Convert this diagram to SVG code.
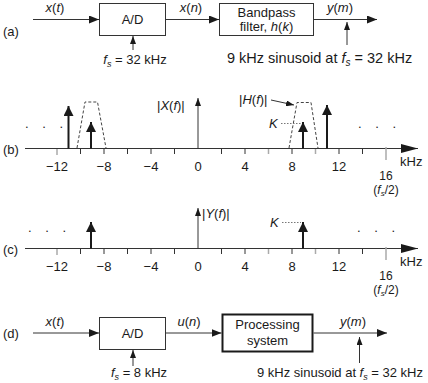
<svg xmlns="http://www.w3.org/2000/svg" width="428" height="383" viewBox="0 0 428 383">
<defs>
<marker id="ah" viewBox="0 0 10 8" refX="10" refY="4" markerWidth="10" markerHeight="8" markerUnits="userSpaceOnUse" orient="auto"><path d="M0,0 L10,4 L0,8 Z" fill="#1a1a1a"/></marker>
<marker id="ahs" viewBox="0 0 8 6" refX="8" refY="3" markerWidth="8" markerHeight="6" markerUnits="userSpaceOnUse" orient="auto"><path d="M0,0 L8,3 L0,6 Z" fill="#1a1a1a"/></marker>
<marker id="ahx" viewBox="0 0 17 9" refX="17" refY="4.5" markerWidth="17" markerHeight="9" markerUnits="userSpaceOnUse" orient="auto"><path d="M0,0 L17,4.5 L0,9 Z" fill="#1a1a1a"/></marker>
<marker id="ahb" viewBox="0 0 10 10" refX="10" refY="5" markerWidth="10" markerHeight="10" markerUnits="userSpaceOnUse" orient="auto"><path d="M0,0 L10,5 L0,10 Z" fill="#1a1a1a"/></marker>
</defs>
<style>
text{font-family:"Liberation Sans",Arial,sans-serif;font-size:13px;fill:#1a1a1a}
.m{text-anchor:middle}
.i{font-style:italic}
.sub{font-size:9px;font-style:italic}
.big{font-size:14.5px}
.big .sub{font-size:10px}
.fh{font-size:12px}
.fh .sub{font-size:8px}
.dots{letter-spacing:5px}
.box{fill:#fff;stroke:#333;stroke-width:1}
.tbox{fill:#fff;stroke:#1a1a1a;stroke-width:2}
.ln{stroke:#333;stroke-width:1;fill:none}
.sp{stroke:#1a1a1a;stroke-width:2;fill:none}
.tk{stroke:#333;stroke-width:1}
.tg{stroke:#aaa;stroke-width:1.5}
.dash{stroke:#444;stroke-width:1;fill:none;stroke-dasharray:3,2}
.dot{stroke:#777;stroke-width:1;fill:none;stroke-dasharray:1.5,1.5}
</style>

<!-- panel labels -->
<text x="3" y="36">(a)</text>
<text x="3" y="154">(b)</text>
<text x="3" y="254">(c)</text>
<text x="3" y="338">(d)</text>

<!-- (a) -->
<g id="ad_a"><rect class="box" x="99.5" y="3.5" width="66" height="32"/><text class="m" x="132.5" y="24">A/D</text></g>
<g id="bpf"><rect class="box" x="219.5" y="3.5" width="94" height="32"/><text class="m" x="266.5" y="17">Bandpass</text><text class="m" x="266.5" y="31">filter, <tspan class="i">h</tspan>(<tspan class="i">k</tspan>)</text></g>
<g id="conn_a">
<line class="ln" x1="33" y1="19.5" x2="99" y2="19.5" marker-end="url(#ah)"/>
<line class="ln" x1="166" y1="19.5" x2="219" y2="19.5" marker-end="url(#ah)"/>
<line class="ln" x1="314" y1="19.5" x2="377" y2="19.5" marker-end="url(#ah)"/>
<line class="ln" x1="133" y1="50" x2="133" y2="36" marker-end="url(#ahs)"/>
<line class="ln" x1="347" y1="45" x2="347" y2="22" marker-end="url(#ahs)"/>
</g>
<text class="m" x="55" y="12"><tspan class="i">x</tspan>(<tspan class="i">t</tspan>)</text>
<text class="m" x="191" y="12"><tspan class="i">x</tspan>(<tspan class="i">n</tspan>)</text>
<text class="m" x="340" y="12"><tspan class="i">y</tspan>(<tspan class="i">m</tspan>)</text>
<text class="m" x="135" y="64"><tspan class="i">f</tspan><tspan class="sub" dy="3">s</tspan><tspan dy="-3"> = 32 kHz</tspan></text>
<text class="big" x="227" y="63">9 kHz sinusoid at <tspan class="i">f</tspan><tspan class="sub" dy="3">s</tspan><tspan dy="-3"> = 32 kHz</tspan></text>

<!-- (b) spectrum -->
<g id="spec_b">
<line class="ln" x1="25" y1="148.5" x2="418" y2="148.5" marker-end="url(#ahx)"/>
<line class="ln" x1="198" y1="148.5" x2="198" y2="98" marker-end="url(#ahs)"/>
<g>
<line class="tg" x1="57" y1="149" x2="57" y2="155"/>
<line class="tk" x1="80.5" y1="149" x2="80.5" y2="154"/>
<line class="tk" x1="104" y1="149" x2="104" y2="154"/>
<line class="tk" x1="127.5" y1="149" x2="127.5" y2="154"/>
<line class="tk" x1="151" y1="149" x2="151" y2="154"/>
<line class="tk" x1="174.5" y1="149" x2="174.5" y2="154"/>
<line class="tk" x1="221.5" y1="149" x2="221.5" y2="154"/>
<line class="tk" x1="245" y1="149" x2="245" y2="154"/>
<line class="tg" x1="268.5" y1="149" x2="268.5" y2="154"/>
<line class="tk" x1="292" y1="149" x2="292" y2="154"/>
<line class="tg" x1="315.5" y1="149" x2="315.5" y2="154"/>
<line class="tk" x1="339" y1="149" x2="339" y2="154"/>
<line class="tk" x1="362.5" y1="149" x2="362.5" y2="154"/>
<line class="tg" x1="386" y1="147" x2="386" y2="160"/>
</g>
<polyline class="dash" points="77,148 85,102 97.5,102 106,148"/>
<polyline class="dash" points="289,148 297,102.5 311,102.5 318,148"/>
<line class="sp" x1="68.5" y1="148.5" x2="68.5" y2="106" marker-end="url(#ahb)"/>
<line class="sp" x1="91" y1="148.5" x2="91" y2="122" marker-end="url(#ahb)"/>
<line class="sp" x1="303" y1="148.5" x2="303" y2="122" marker-end="url(#ahb)"/>
<line class="sp" x1="327" y1="148.5" x2="327" y2="105" marker-end="url(#ahb)"/>
<line class="dot" x1="281" y1="123.5" x2="301" y2="123.5"/>
<line class="ln" x1="271" y1="100" x2="294" y2="105" marker-end="url(#ahs)"/>
</g>
<text class="dots" x="25" y="128">. . .</text>
<text class="dots" x="358" y="128">. . .</text>
<text x="157" y="110">|<tspan class="i">X</tspan>(<tspan class="i">f</tspan>)|</text>
<text x="239" y="104">|<tspan class="i">H</tspan>(<tspan class="i">f</tspan>)|</text>
<text class="i" x="269" y="128">K</text>
<text class="m" x="57" y="171">−12</text>
<text class="m" x="104" y="171">−8</text>
<text class="m" x="151" y="171">−4</text>
<text class="m" x="198" y="171">0</text>
<text class="m" x="245" y="171">4</text>
<text class="m" x="292" y="171">8</text>
<text class="m" x="339" y="171">12</text>
<text class="m fh" x="386" y="180">16<tspan x="386" dy="13.5">(</tspan><tspan class="i">f</tspan><tspan class="sub" dy="2">s</tspan><tspan dy="-2">/2)</tspan></text>
<text x="400" y="166">kHz</text>

<!-- (c) spectrum -->
<g id="spec_c">
<line class="ln" x1="25" y1="248.5" x2="418" y2="248.5" marker-end="url(#ahx)"/>
<line class="ln" x1="198" y1="248.5" x2="198" y2="208" marker-end="url(#ahs)"/>
<g>
<line class="tg" x1="57" y1="249" x2="57" y2="255"/>
<line class="tk" x1="80.5" y1="249" x2="80.5" y2="254"/>
<line class="tk" x1="104" y1="249" x2="104" y2="254"/>
<line class="tk" x1="127.5" y1="249" x2="127.5" y2="254"/>
<line class="tk" x1="151" y1="249" x2="151" y2="254"/>
<line class="tk" x1="174.5" y1="249" x2="174.5" y2="254"/>
<line class="tk" x1="221.5" y1="249" x2="221.5" y2="254"/>
<line class="tk" x1="245" y1="249" x2="245" y2="254"/>
<line class="tg" x1="268.5" y1="249" x2="268.5" y2="254"/>
<line class="tk" x1="292" y1="249" x2="292" y2="254"/>
<line class="tg" x1="315.5" y1="249" x2="315.5" y2="254"/>
<line class="tk" x1="339" y1="249" x2="339" y2="254"/>
<line class="tk" x1="362.5" y1="249" x2="362.5" y2="254"/>
<line class="tg" x1="386" y1="247" x2="386" y2="260"/>
</g>
<line class="sp" x1="91" y1="248.5" x2="91" y2="222" marker-end="url(#ahb)"/>
<line class="sp" x1="303" y1="248.5" x2="303" y2="222" marker-end="url(#ahb)"/>
<line class="dot" x1="282" y1="222.5" x2="301" y2="222.5"/>
</g>
<text class="dots" x="28" y="232">. . .</text>
<text class="dots" x="357" y="232">. . .</text>
<text x="202" y="218">|<tspan class="i">Y</tspan>(<tspan class="i">f</tspan>)|</text>
<text class="i" x="270" y="227">K</text>
<text class="m" x="57" y="271">−12</text>
<text class="m" x="104" y="271">−8</text>
<text class="m" x="151" y="271">−4</text>
<text class="m" x="198" y="271">0</text>
<text class="m" x="245" y="271">4</text>
<text class="m" x="292" y="271">8</text>
<text class="m" x="339" y="271">12</text>
<text class="m fh" x="386" y="280">16<tspan x="386" dy="13.5">(</tspan><tspan class="i">f</tspan><tspan class="sub" dy="2">s</tspan><tspan dy="-2">/2)</tspan></text>
<text x="400" y="266">kHz</text>

<!-- (d) -->
<g id="ad_d"><rect class="box" x="99.5" y="317.5" width="66" height="32"/><text class="m" x="132.5" y="338">A/D</text></g>
<g id="proc"><rect class="tbox" x="222.5" y="314.5" width="90" height="37"/><text class="m" x="267.5" y="329">Processing</text><text class="m" x="267.5" y="345">system</text></g>
<g id="conn_d">
<line class="ln" x1="33" y1="333" x2="99" y2="333" marker-end="url(#ah)"/>
<line class="ln" x1="166" y1="333" x2="221.5" y2="333" marker-end="url(#ah)"/>
<line class="ln" x1="313.5" y1="333" x2="387" y2="333" marker-end="url(#ah)"/>
<line class="ln" x1="133" y1="366" x2="133" y2="350" marker-end="url(#ahs)"/>
<line class="ln" x1="359.5" y1="363" x2="359.5" y2="337" marker-end="url(#ahs)"/>
</g>
<text class="m" x="55" y="326"><tspan class="i">x</tspan>(<tspan class="i">t</tspan>)</text>
<text class="m" x="189" y="326"><tspan class="i">u</tspan>(<tspan class="i">n</tspan>)</text>
<text class="m" x="353" y="326"><tspan class="i">y</tspan>(<tspan class="i">m</tspan>)</text>
<text class="m" x="139" y="377"><tspan class="i">f</tspan><tspan class="sub" dy="3">s</tspan><tspan dy="-3"> = 8 kHz</tspan></text>
<text x="257" y="377">9 kHz sinusoid at <tspan class="i">f</tspan><tspan class="sub" dy="3">s</tspan><tspan dy="-3"> = 32 kHz</tspan></text>
</svg>
